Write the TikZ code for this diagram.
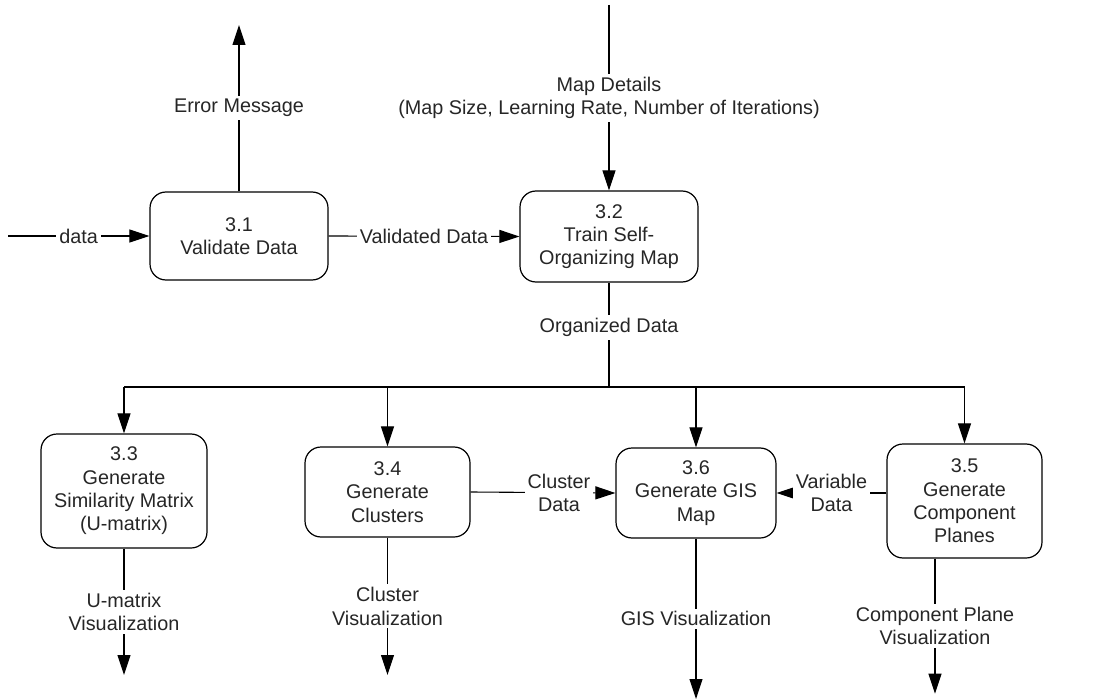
\documentclass[tikz,border=0pt]{standalone}
\usepackage{fontspec}
\setmainfont{Liberation Sans}
\usetikzlibrary{arrows.meta,calc}
\tikzset{
  proc/.style={draw, line width=1.2pt, rounded corners=16pt, align=center,
    inner sep=2pt, text=black!85},
  flow/.style={line width=1.1pt, -{Triangle[length=20pt,width=13pt]}},
  plain/.style={line width=1.1pt},
  lbl/.style={fill=white, inner sep=3pt, align=center, text=black!85},
}
\begin{document}
\begin{tikzpicture}[x=1pt, y=-1pt, font=\fontsize{19.8}{23.3}\selectfont]
\useasboundingbox (0,0) rectangle (1099,700);

% processes
\node[proc, minimum width=178pt, minimum height=88pt]  (n31) at (239,236) {3.1\\Validate Data};
\node[proc, minimum width=178pt, minimum height=91pt]  (n32) at (609,236.5) {3.2\\Train Self-\\Organizing Map};
\node[proc, minimum width=166pt, minimum height=114pt] (n33) at (124,491) {3.3\\Generate\\Similarity Matrix\\(U-matrix)};
\node[proc, minimum width=165pt, minimum height=90pt]  (n34) at (387.5,492) {3.4\\Generate\\Clusters};
\node[proc, minimum width=160pt, minimum height=90pt]  (n36) at (696,493) {3.6\\Generate GIS\\Map};
\node[proc, minimum width=155pt, minimum height=114pt] (n35) at (964.5,501) {3.5\\Generate\\Component\\Planes};

% free ends of the external flows
\coordinate (dataIn) at (8,236);
\coordinate (errOut) at (n31.north |- 0,25);
\coordinate (mapIn)  at (n32.north |- 0,5);
\coordinate (bus)    at (n32.south |- 0,387);
\coordinate (umOut)  at (n33.south |- 0,675);
\coordinate (clOut)  at (n34.south |- 0,675);
\coordinate (gisOut) at (n36.south |- 0,699);
\coordinate (cpFrom) at ($(n35.south)+(-29.5,0)$);
\coordinate (cpOut)  at ($(cpFrom)+(0,135)$);

% inputs and first stage
\draw[flow] (dataIn) -- node[lbl] {data} (n31.west);
\draw[flow] (n31.north) -- node[lbl] {Error Message} (errOut);
\draw[flow] (n31.east) -- node[lbl] {Validated Data} (n32.west);
\draw[flow] (mapIn) -- node[lbl] {Map Details\\(Map Size, Learning Rate, Number of Iterations)} (n32.north);

% organized data bus
\draw[line width=2pt] (n32.south) -- node[lbl, pos=0.43] {Organized Data} (bus);
\draw[plain] (n33.north |- bus) -- (n35.north |- bus);
\draw[flow] (n33.north |- bus) -- (n33.north);
\draw[flow] (n34.north |- bus) -- (n34.north);
\draw[flow] (n36.north |- bus) -- (n36.north);
\draw[flow] (n35.north |- bus) -- (n35.north);

% flows into the GIS map
\draw[flow] (n34.east) -- node[lbl, pos=0.61] {Cluster\\Data} (n36.west);
\draw[flow] (n35.west |- n36.east) -- node[lbl] {Variable\\Data} (n36.east);

% visual outputs
\draw[flow] (n33.south) -- node[lbl] {U-matrix\\Visualization} (umOut);
\draw[flow] (n34.south) -- node[lbl] {Cluster\\Visualization} (clOut);
\draw[flow] (n36.south) -- node[lbl] {GIS Visualization} (gisOut);
\draw[flow] (cpFrom) -- node[lbl] {Component Plane\\Visualization} (cpOut);
\end{tikzpicture}
\end{document}
